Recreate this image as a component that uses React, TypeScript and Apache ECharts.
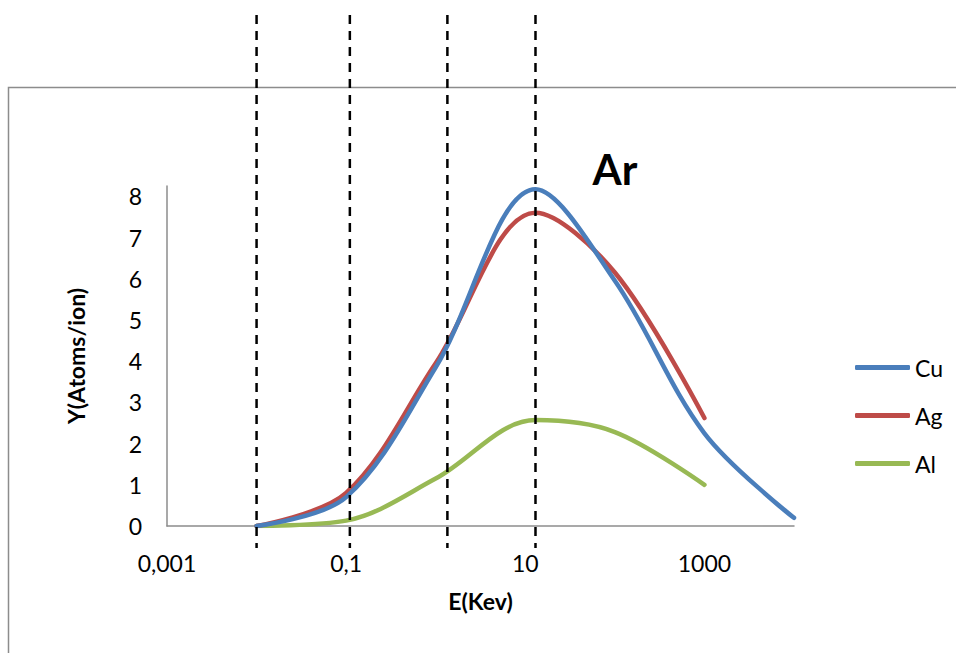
import React, { useEffect, useRef } from "react";
import * as echarts from "echarts";

const energies = [0.01, 0.1, 1, 13, 100, 1000, 10000];
const cuValues = [0, 0.7, 3.85, 8.17, 5.95, 2.25, 0.2];
const agValues = [0, 0.8, 3.95, 7.6, 6.15, 2.62];
const alValues = [0, 0.13, 1.15, 2.57, 2.28, 1.0];
const xTickLabels = [0.001, 0.1, 10, 1000];
const yTicks = [0, 1, 2, 3, 4, 5, 6, 7, 8];
const dashedMarkers = [0.01, 0.11, 1.35, 13];
const seriesNames = ["Cu", "Ag", "Al"];
const chartTitle = "Ar";

const FONT = "Lato, 'Open Sans', sans-serif";

export default function App() {
  const ref = useRef<HTMLDivElement>(null);
  useEffect(() => {
    const el = ref.current!;
    const chart = echarts.init(el, null, { renderer: "svg" });
    const pair = (vals: number[]) => vals.map((v, i) => [energies[i], v]);
    const colors = ["#4A7EBB", "#BE4B48", "#98B954"];
    const allVals = [cuValues, agValues, alValues];
    chart.setOption({
      animation: false,
      backgroundColor: "#ffffff",
      grid: { left: 167, right: 162, top: 186, bottom: 127, containLabel: false },
      legend: {
        orient: "vertical",
        left: 855,
        top: 356,
        padding: 0,
        itemWidth: 55,
        itemHeight: 5,
        itemGap: 25,
        icon: "roundRect",
        data: seriesNames,
        textStyle: { fontSize: 23, color: "#000", fontFamily: FONT },
      },
      xAxis: {
        type: "log",
        logBase: 10,
        min: 0.001,
        max: 10000,
        name: "E(Kev)",
        nameLocation: "middle",
        nameGap: 63,
        nameTextStyle: { fontSize: 23, fontWeight: "bold", color: "#000", fontFamily: FONT },
        axisLine: { lineStyle: { color: "#8c8c8c", width: 1.5 } },
        axisTick: { show: false },
        splitLine: { show: false },
        axisLabel: {
          fontSize: 23,
          color: "#000",
          fontFamily: FONT,
          margin: 25,
          showMaxLabel: false,
          formatter: (v: number) => {
            const hit = xTickLabels.find((t) => Math.abs(Math.log10(v) - Math.log10(t)) < 1e-6);
            return hit === undefined ? "" : String(hit).replace(".", ",");
          },
        },
      },
      yAxis: {
        type: "value",
        min: 0,
        max: 8.25,
        interval: 1,
        name: "Y(Atoms/ion)",
        nameLocation: "middle",
        nameGap: 80,
        nameRotate: 90,
        nameTextStyle: { fontSize: 23, fontWeight: "bold", color: "#000", fontFamily: FONT },
        axisLine: { show: true, lineStyle: { color: "#8c8c8c", width: 1.5 } },
        axisTick: { show: false },
        splitLine: { show: false },
        axisLabel: {
          fontSize: 23,
          color: "#000",
          fontFamily: FONT,
          margin: 25,
          showMaxLabel: false,
          formatter: (v: number) => (yTicks.includes(v) ? String(v) : ""),
        },
      },
      series: seriesNames.map((name, i) => ({
        name,
        type: "line",
        data: pair(allVals[i]),
        smooth: 0.34,
        symbol: "none",
        color: colors[i],
        lineStyle: { width: 4.5, color: colors[i], cap: "round", join: "round" },
        z: 5 - i,
      })),
    });
    const lines = dashedMarkers.map((v) => {
      const px = chart.convertToPixel({ xAxisIndex: 0 }, v) as number;
      return {
        type: "line",
        shape: { x1: px, y1: 15, x2: px, y2: 548 },
        style: { stroke: "#000", lineWidth: 2.5, lineDash: [9, 7] },
        z: 10,
      };
    });
    chart.setOption({
      graphic: [
        {
          type: "rect",
          shape: { x: 8.5, y: 87.5, width: 1000, height: 700 },
          style: { fill: "none", stroke: "#8c8c8c", lineWidth: 1.5 },
          z: 0,
        },
        {
          type: "text",
          x: 615,
          y: 169,
          style: {
            text: chartTitle,
            fontSize: 42,
            fontWeight: "bold",
            fontFamily: FONT,
            fill: "#000",
            textAlign: "center",
            textVerticalAlign: "middle",
          },
        },
        ...lines,
      ],
    });
    return () => chart.dispose();
  }, []);
  return (
    <div
      ref={ref}
      style={{ position: "absolute", left: 0, top: 0, width: 956, height: 653 }}
    />
  );
}
